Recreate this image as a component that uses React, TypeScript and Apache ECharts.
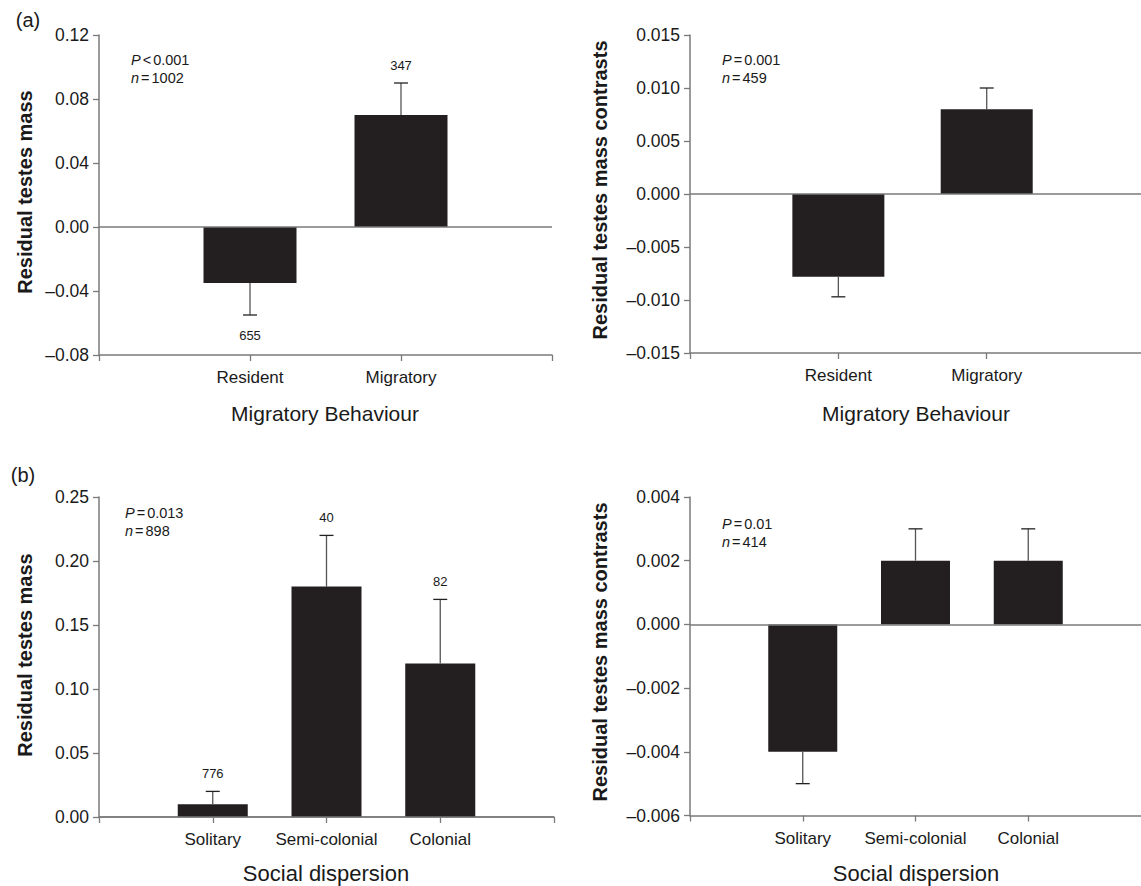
import React, { useEffect, useRef } from "react";
import * as echarts from "echarts";

// ---- data ----
const migCats = ["Resident", "Migratory"];
const migMass = [-0.035, 0.07];
const migMassErr = [-0.055, 0.09];
const migMassN = [655, 347];
const migContrast = [-0.0078, 0.008];
const migContrastErr = [-0.0097, 0.01];

const socCats = ["Solitary", "Semi-colonial", "Colonial"];
const socMass = [0.01, 0.18, 0.12];
const socMassErr = [0.02, 0.22, 0.17];
const socMassN = [776, 40, 82];
const socContrast = [-0.004, 0.002, 0.002];
const socContrastErr = [-0.005, 0.003, 0.003];

const migMassTicks = [-0.08, -0.04, 0.0, 0.04, 0.08, 0.12];
const migContrastTicks = [-0.015, -0.01, -0.005, 0.0, 0.005, 0.01, 0.015];
const socMassTicks = [0.0, 0.05, 0.1, 0.15, 0.2, 0.25];
const socContrastTicks = [-0.006, -0.004, -0.002, 0.0, 0.002, 0.004];

const stats = [
  { p: "<0.001", n: "1002" },
  { p: "=0.001", n: "459" },
  { p: "=0.013", n: "898" },
  { p: "=0.01", n: "414" },
];

const FONT = '"Liberation Sans", Arial, Helvetica, sans-serif';
const AX = "#7a7a7a";
const TXT = "#1a1a1a";
const BAR = "#231f20";

function fmt(v: number, d: number) {
  if (Math.abs(v) < 1e-12) return (0).toFixed(d);
  return (v < 0 ? "\u2013" : "") + Math.abs(v).toFixed(d);
}

export default function App() {
  const ref = useRef<HTMLDivElement>(null);
  useEffect(() => {
    if (!ref.current) return;
    const chart = echarts.init(ref.current, null, { renderer: "svg" });

    const panels = [
      { grid: { left: 99, top: 35, width: 453, height: 320 }, cats: migCats, vals: migMass, errs: migMassErr, ns: migMassN, ticks: migMassTicks, dec: 2, xMax: 3, tickVals: [0, 1, 2, 3], barWidth: 93 },
      { grid: { left: 690, top: 35, width: 456, height: 318 }, cats: migCats, vals: migContrast, errs: migContrastErr, ns: null, ticks: migContrastTicks, dec: 3, xMax: 3.04, tickVals: [0, 1, 2], barWidth: 92 },
      { grid: { left: 99, top: 497, width: 455, height: 320 }, cats: socCats, vals: socMass, errs: socMassErr, ns: socMassN, ticks: socMassTicks, dec: 2, xMax: 4, tickVals: [0, 1, 2, 3, 4], barWidth: 70 },
      { grid: { left: 690, top: 497, width: 455, height: 318.5 }, cats: socCats, vals: socContrast, errs: socContrastErr, ns: null, ticks: socContrastTicks, dec: 3, xMax: 4, tickVals: [0, 1, 2, 3], barWidth: 69 },
    ];

    const grids: any[] = [];
    const xAxes: any[] = [];
    const yAxes: any[] = [];
    const series: any[] = [];

    panels.forEach((pn, i) => {
      grids.push({ ...pn.grid, containLabel: false });
      xAxes.push({
        gridIndex: i,
        type: "value",
        min: 0,
        max: pn.xMax,
        interval: 1,
        axisLine: { show: true, onZero: false, lineStyle: { color: AX, width: 1.5 } },
        axisTick: { show: true, length: 6, customValues: pn.tickVals, lineStyle: { color: AX, width: 1.3 } },
        axisLabel: {
          customValues: pn.cats.map((_, k) => k + 1),
          formatter: (v: number) => pn.cats[Math.round(v) - 1] ?? "",
          margin: 14,
          fontSize: 17,
          color: TXT,
          fontFamily: FONT,
        },
        splitLine: { show: false },
      });
      const tk = pn.ticks;
      yAxes.push({
        gridIndex: i,
        type: "value",
        min: tk[0],
        max: tk[tk.length - 1],
        interval: Math.round((tk[1] - tk[0]) * 1e6) / 1e6,
        axisLine: { show: true, onZero: false, lineStyle: { color: AX, width: 1.5 } },
        axisTick: { show: true, length: 6, lineStyle: { color: AX, width: 1.3 } },
        axisLabel: { formatter: (v: number) => fmt(v, pn.dec), margin: 10, fontSize: 17.5, color: TXT, fontFamily: FONT },
        splitLine: { show: false },
      });
      series.push({
        type: "bar",
        xAxisIndex: i,
        yAxisIndex: i,
        data: pn.vals.map((v, k) => [k + 1, v]),
        barWidth: pn.barWidth,
        itemStyle: { color: BAR },
        markLine: {
          silent: true,
          symbol: "none",
          label: { show: false },
          lineStyle: { color: AX, width: 1.5, type: "solid" },
          data: [{ yAxis: 0 }],
        },
      });
      series.push({
        type: "custom",
        xAxisIndex: i,
        yAxisIndex: i,
        z: 5,
        data: pn.vals.map((v, k) => [k + 1, v, pn.errs[k], pn.ns ? pn.ns[k] : -1]),
        renderItem: (params: any, api: any) => {
          const x = api.value(0);
          const v = api.value(1);
          const e = api.value(2);
          const n = api.value(3);
          const a = api.coord([x, v]);
          const b = api.coord([x, e]);
          const children: any[] = [
            { type: "line", shape: { x1: a[0], y1: a[1], x2: b[0], y2: b[1] }, style: { stroke: "#555", lineWidth: 1.3 } },
            { type: "line", shape: { x1: b[0] - 7, y1: b[1], x2: b[0] + 7, y2: b[1] }, style: { stroke: "#222", lineWidth: 1.3 } },
          ];
          if (n >= 0) {
            children.push({
              type: "text",
              x: b[0],
              y: e < v ? b[1] + 20 : b[1] - 18,
              style: { text: String(n), fontSize: 13, fontFamily: FONT, fill: TXT, align: "center", verticalAlign: "middle", textAlign: "center", textVerticalAlign: "middle" },
            });
          }
          return { type: "group", children };
        },
      });
    });

    const txt = (text: string, x: number, y: number, size: number, extra: any = {}) => ({
      type: "text",
      x,
      y,
      ...(extra.rotation ? { rotation: extra.rotation } : {}),
      style: {
        text,
        fontSize: size,
        fontFamily: FONT,
        fontWeight: extra.bold ? "bold" : "normal",
        fill: TXT,
        align: extra.align || "center",
        verticalAlign: "middle",
        textAlign: extra.align || "center",
        textVerticalAlign: "middle",
      },
    });

    const richStyle = {
      i: { fontStyle: "italic", fontSize: 14.5, fontFamily: FONT, fill: TXT },
      o: { fontSize: 14.5, fontFamily: FONT, fill: TXT, padding: [0, 2, 0, 2] },
      t: { fontSize: 14.5, fontFamily: FONT, fill: TXT },
    };

    const statText = (s: { p: string; n: string }, x: number, y: number) => [
      {
        type: "text",
        x,
        y,
        style: {
          text: "{i|P}{o|" + s.p.charAt(0) + "}{t|" + s.p.slice(1) + "}",
          rich: richStyle,
          align: "left",
          verticalAlign: "middle",
          textAlign: "left",
          textVerticalAlign: "middle",
        },
      },
      {
        type: "text",
        x,
        y: y + 18,
        style: {
          text: "{i|n}{o|=}{t|" + s.n + "}",
          rich: richStyle,
          align: "left",
          verticalAlign: "middle",
          textAlign: "left",
          textVerticalAlign: "middle",
        },
      },
    ];

    const graphic: any[] = [
      txt("(a)", 28, 20, 20),
      txt("(b)", 23, 475, 20),
      txt("Residual testes mass", 25, 192, 20, { bold: true, rotation: Math.PI / 2 }),
      txt("Residual testes mass contrasts", 600, 190, 20, { bold: true, rotation: Math.PI / 2 }),
      txt("Residual testes mass", 25, 655, 20, { bold: true, rotation: Math.PI / 2 }),
      txt("Residual testes mass contrasts", 600, 652, 20, { bold: true, rotation: Math.PI / 2 }),
      txt("Migratory Behaviour", 325, 413, 21),
      txt("Migratory Behaviour", 916, 413, 21),
      txt("Social dispersion", 326, 873, 22),
      txt("Social dispersion", 916, 873, 22),
      ...statText(stats[0], 131, 60),
      ...statText(stats[1], 722, 60),
      ...statText(stats[2], 125, 513),
      ...statText(stats[3], 722, 524),
    ];

    chart.setOption({
      animation: false,
      backgroundColor: "#ffffff",
      grid: grids,
      xAxis: xAxes,
      yAxis: yAxes,
      series,
      graphic,
    });
    return () => chart.dispose();
  }, []);

  return <div ref={ref} style={{ position: "fixed", left: 0, top: 0, width: 1141, height: 886 }} />;
}
